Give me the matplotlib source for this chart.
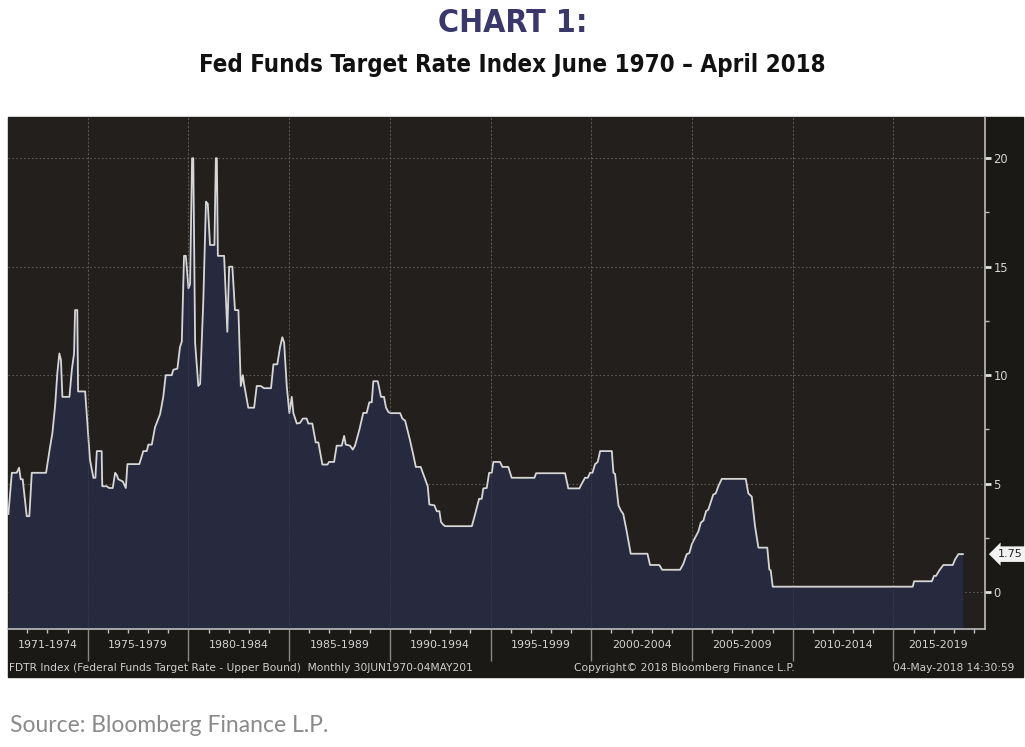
import matplotlib
matplotlib.use('Agg')
import matplotlib.pyplot as plt
from matplotlib.patches import Rectangle
from matplotlib.transforms import blended_transform_factory

# FDTR upper bound (decimal year, percent)
years = [1971.06, 1971.23, 1971.47, 1971.59, 1971.67, 1971.77, 1971.97, 1972.10, 1972.22, 1972.93,
         1973.13, 1973.24, 1973.38, 1973.49, 1973.59, 1973.67, 1973.74, 1974.09, 1974.21, 1974.32,
         1974.37, 1974.48, 1974.52, 1974.87, 1974.98, 1975.11, 1975.28, 1975.38, 1975.45, 1975.69,
         1975.72, 1975.94, 1976.06, 1976.24, 1976.36, 1976.44, 1976.52, 1976.74, 1976.89, 1976.97,
         1977.56, 1977.76, 1977.93, 1978.01, 1978.18, 1978.34, 1978.59, 1978.75, 1978.87, 1979.17,
         1979.25, 1979.45, 1979.58, 1979.67, 1979.78, 1979.87, 1980.00, 1980.08, 1980.18, 1980.24,
         1980.33, 1980.49, 1980.58, 1980.74, 1980.87, 1980.96, 1981.07, 1981.29, 1981.36, 1981.41,
         1981.46, 1981.77, 1981.93, 1982.02, 1982.18, 1982.31, 1982.48, 1982.60, 1982.70, 1982.76,
         1982.97, 1983.26, 1983.39, 1983.59, 1983.75, 1984.10, 1984.22, 1984.41, 1984.55, 1984.66,
         1984.75, 1984.88, 1985.01, 1985.13, 1985.21, 1985.38, 1985.54, 1985.68, 1985.87, 1985.95,
         1986.15, 1986.32, 1986.45, 1986.65, 1986.90, 1986.98, 1987.23, 1987.36, 1987.61, 1987.73,
         1987.81, 1988.02, 1988.16, 1988.27, 1988.49, 1988.68, 1988.85, 1988.98, 1989.10, 1989.18,
         1989.40, 1989.56, 1989.71, 1989.81, 1989.93, 1990.04, 1990.51, 1990.62, 1990.76, 1991.00,
         1991.17, 1991.29, 1991.53, 1991.88, 1991.96, 1992.21, 1992.33, 1992.46, 1992.54, 1992.66,
         1992.74, 1994.07, 1994.23, 1994.43, 1994.56, 1994.64, 1994.81, 1994.93, 1995.06, 1995.14,
         1995.47, 1995.59, 1995.88, 1996.05, 1997.18, 1997.26, 1998.70, 1998.86, 1999.41, 1999.53,
         1999.69, 1999.83, 1999.94, 2000.06, 2000.19, 2000.32, 2000.44, 2001.02, 2001.10, 2001.18,
         2001.35, 2001.47, 2001.59, 2001.76, 2001.96, 2002.79, 2002.92, 2003.38, 2003.52, 2004.41,
         2004.57, 2004.74, 2004.87, 2004.99, 2005.15, 2005.32, 2005.44, 2005.57, 2005.70, 2005.81,
         2005.95, 2006.06, 2006.18, 2006.31, 2006.48, 2007.67, 2007.80, 2007.97, 2008.13, 2008.30,
         2008.74, 2008.84, 2008.91, 2009.01, 2015.96, 2016.03, 2016.91, 2017.02, 2017.12, 2017.28,
         2017.48, 2017.95, 2018.06, 2018.23, 2018.45]
rates = [3.6, 5.5, 5.5, 5.73, 5.2, 5.2, 3.5, 3.5, 5.5, 5.5,
         6.7, 7.3, 8.6, 10.1, 11.0, 10.7, 9.0, 9.0, 10.25, 11.0,
         13.0, 13.0, 9.25, 9.25, 7.8, 6.1, 5.27, 5.27, 6.5, 6.5,
         4.88, 4.88, 4.8, 4.8, 5.5, 5.4, 5.2, 5.1, 4.8, 5.9,
         5.9, 6.5, 6.5, 6.8, 6.8, 7.6, 8.2, 9.0, 10.0, 10.0,
         10.25, 10.3, 11.3, 11.55, 15.5, 15.5, 14.0, 14.2, 20.0, 20.0,
         11.5, 9.5, 9.6, 13.5, 18.0, 17.9, 16.0, 16.0, 20.0, 20.0,
         15.5, 15.5, 12.0, 15.0, 15.0, 13.0, 13.0, 9.5, 10.0, 9.6,
         8.5, 8.5, 9.5, 9.5, 9.4, 9.4, 10.5, 10.5, 11.3, 11.75,
         11.5, 9.5, 8.25, 9.0, 8.25, 7.77, 7.8, 8.0, 8.0, 7.77,
         7.77, 6.9, 6.9, 5.88, 5.88, 6.0, 6.0, 6.75, 6.75, 7.2,
         6.8, 6.75, 6.57, 6.75, 7.5, 8.26, 8.26, 8.75, 8.75, 9.72,
         9.72, 9.0, 9.0, 8.5, 8.3, 8.25, 8.25, 8.0, 7.9, 7.0,
         6.3, 5.77, 5.77, 4.88, 4.04, 4.0, 3.73, 3.73, 3.23, 3.1,
         3.04, 3.04, 3.58, 4.3, 4.3, 4.78, 4.8, 5.5, 5.5, 6.0,
         6.0, 5.77, 5.77, 5.27, 5.27, 5.48, 5.48, 4.78, 4.78, 5.0,
         5.27, 5.27, 5.5, 5.5, 5.9, 6.0, 6.5, 6.5, 5.5, 5.45,
         4.0, 3.76, 3.6, 2.8, 1.77, 1.77, 1.25, 1.25, 1.03, 1.03,
         1.3, 1.75, 1.8, 2.2, 2.5, 2.8, 3.2, 3.3, 3.73, 3.8,
         4.2, 4.5, 4.55, 4.88, 5.22, 5.22, 4.55, 4.4, 3.04, 2.05,
         2.05, 1.05, 1.0, 0.25, 0.25, 0.5, 0.5, 0.75, 0.75, 1.0,
         1.25, 1.25, 1.5, 1.75, 1.75]

period_labels = ['1971-1974', '1975-1979', '1980-1984', '1985-1989', '1990-1994',
                 '1995-1999', '2000-2004', '2005-2009', '2010-2014', '2015-2019']
period_edges = [1971.04, 1975, 1980, 1985, 1990, 1995, 2000, 2005, 2010, 2015, 2019.55]
y_ticks = [0, 5, 10, 15, 20]
last_value = 1.75

W, H = 1025, 747
fig = plt.figure(figsize=(W / 100, H / 100), dpi=100)
fig.patch.set_facecolor('white')

# dark Bloomberg panel
fig.add_artist(Rectangle((8 / W, 1 - 677 / H), 1015 / W, 560 / H,
                         transform=fig.transFigure, color='#1b1916', zorder=0))

ax = fig.add_axes([8 / W, 1 - 629 / H, 977 / W, 512 / H])
ax.set_facecolor('#221f1c')
ax.set_xlim(period_edges[0], period_edges[-1])
ax.set_ylim(-1.7, 21.9)

ax.fill_between(years, rates, -1.7, color='#272a3e', lw=0, zorder=2)
ax.plot(years, rates, color='#d6d6d6', lw=1.3, zorder=3)

# grid
for yv in y_ticks:
    ax.axhline(yv, color='#5c5a58', lw=0.8, ls=(0, (1.5, 2)), zorder=1)
for xv in period_edges[1:-1]:
    ax.axvline(xv, color='#5c5a58', lw=0.8, ls=(0, (1.5, 2)), zorder=1)
    ax.axvline(xv, color='#5c5a58', lw=0.5, ls=(0, (1.5, 2)), zorder=4, alpha=0.6)

for s in ['left', 'top']:
    ax.spines[s].set_visible(False)
for s in ['right', 'bottom']:
    ax.spines[s].set_color('#bdbdbd')
    ax.spines[s].set_linewidth(1.2)

# right y axis
ax.yaxis.tick_right()
ax.set_yticks(y_ticks)
ax.set_yticks([2.5, 7.5, 12.5, 17.5], minor=True)
ax.tick_params(axis='y', which='major', length=4, width=2, color='#e0e0e0',
               labelcolor='#d4d4d4', labelsize=8.3, pad=2)
ax.tick_params(axis='y', which='minor', length=3, width=1, color='#bdbdbd')

# bottom x axis: long separators at period edges, short yearly ticks
ax.set_xticks(period_edges[1:-1])
ax.set_xticklabels([])
ax.set_xticks(list(range(1972, 2020)), minor=True)
ax.tick_params(axis='x', which='major', length=23, width=1, color='#8a8885')
ax.tick_params(axis='x', which='minor', length=3, width=1, color='#bdbdbd')

trans = blended_transform_factory(ax.transData, ax.transAxes)
for i, lab in enumerate(period_labels):
    xc = (period_edges[i] + period_edges[i + 1]) / 2
    if i == len(period_labels) - 1:
        xc = 2017.2
    ax.text(xc, -0.031, lab, transform=trans, ha='center', va='center',
            color='#d4d4d4', fontsize=7.9, family='DejaVu Sans')

ax.annotate(f'{last_value:.2f}', xy=(1, last_value), xycoords=('axes fraction', 'data'),
            xytext=(9, 0), textcoords='offset points', ha='left', va='center',
            fontsize=8, color='#222222',
            bbox=dict(boxstyle='larrow,pad=0.25', fc='#f2f2f2', ec='none'))

# footer lines inside the panel
fy = 1 - 668 / H
fig.text(9 / W, fy, 'FDTR Index (Federal Funds Target Rate - Upper Bound)  Monthly 30JUN1970-04MAY201',
         ha='left', va='center', color='#cfcfcf', fontsize=7.65)
fig.text(684 / W, fy, 'Copyright\u00a9 2018 Bloomberg Finance L.P.',
         ha='center', va='center', color='#cfcfcf', fontsize=7.65)
fig.text(1014 / W, fy, '04-May-2018 14:30:59',
         ha='right', va='center', color='#cfcfcf', fontsize=7.65)

# titles
title_font = ['Liberation Sans Narrow', 'DejaVu Sans']
fig.text(0.5, 1 - 23 / H, 'CHART 1:', ha='center', va='center', color='#3a386a',
         fontsize=23, fontweight='bold', fontstretch='condensed', family=title_font)
fig.text(0.5, 1 - 65 / H, 'Fed Funds Target Rate Index June 1970 \u2013 April 2018',
         ha='center', va='center', color='#111111', fontsize=17.3,
         fontweight='bold', fontstretch='condensed', family=title_font)

fig.text(10 / W, 1 - 726 / H, 'Source: Bloomberg Finance L.P.', ha='left', va='center',
         color='#8a8a8a', fontsize=16.5, family='Lato')

fig.savefig('out.png', dpi=100, facecolor=fig.get_facecolor())
